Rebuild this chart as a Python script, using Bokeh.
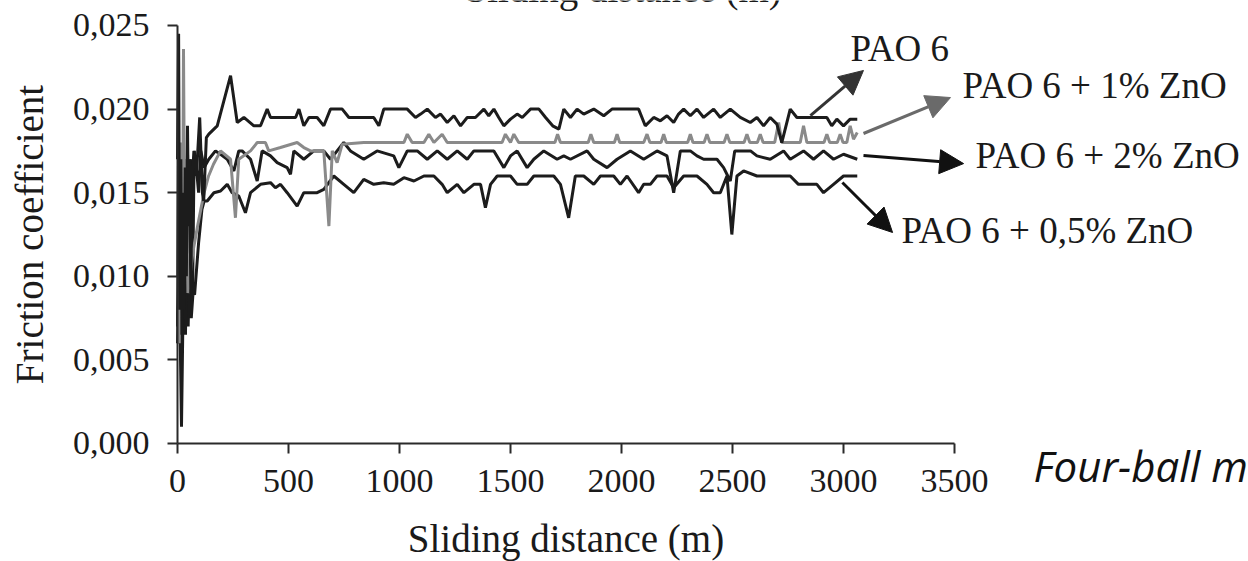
from bokeh.plotting import figure
from bokeh.models import Range1d, FixedTicker, Label, Arrow, NormalHead
from bokeh.embed import file_html
from bokeh.resources import INLINE

# ---------------- data ----------------
x_ticks = [0, 500, 1000, 1500, 2000, 2500, 3000, 3500]
y_ticks = [0.0, 0.005, 0.010, 0.015, 0.020, 0.025]
y_tick_labels = ["0,000", "0,005", "0,010", "0,015", "0,020", "0,025"]

series_names = ["PAO 6", "PAO 6 + 1% ZnO", "PAO 6 + 2% ZnO", "PAO 6 + 0,5% ZnO"]

pao6_x = [0, 5, 10, 15, 20, 25, 30, 35, 40, 45, 50, 55, 60, 65, 75, 85, 100, 112, 118, 130, 141,
          179, 239, 269, 299, 344, 374, 404, 419, 532, 547, 569, 592, 629, 659, 689, 742, 772, 884,
          907, 929, 1035, 1072, 1095, 1125, 1162, 1185, 1215, 1245, 1275, 1305, 1342, 1380, 1402,
          1425, 1447, 1470, 1500, 1530, 1553, 1590, 1628, 1658, 1690, 1718, 1740, 1770, 1800, 1830,
          1875, 1920, 1957, 2077, 2107, 2145, 2175, 2205, 2235, 2257, 2280, 2310, 2340, 2370, 2415,
          2445, 2490, 2535, 2580, 2610, 2640, 2670, 2700, 2722, 2760, 2790, 2925, 2947, 2970, 3000,
          3030, 3062]
pao6_y = [0.0170, 0.0245, 0.0080, 0.0170, 0.0065, 0.0150, 0.0080, 0.0165, 0.0100, 0.0190, 0.0130,
          0.0170, 0.0090, 0.0160, 0.0175, 0.0160, 0.0195, 0.0150, 0.0145, 0.0183, 0.0185,
          0.0190, 0.0220, 0.0192, 0.0195, 0.0190, 0.0190, 0.0200, 0.0195, 0.0195, 0.0200, 0.0190,
          0.0195, 0.0195, 0.0190, 0.0200, 0.0200, 0.0195, 0.0195,
          0.0190, 0.0200, 0.0200, 0.0195, 0.0197, 0.0200, 0.0195, 0.0197, 0.0192, 0.0196, 0.0190,
          0.0195, 0.0195, 0.0200, 0.0196,
          0.0200, 0.0195, 0.0190, 0.0194, 0.0197, 0.0195, 0.0200, 0.0200, 0.0195, 0.0190, 0.0188,
          0.0200, 0.0195, 0.0200, 0.0197,
          0.0200, 0.0196, 0.0200, 0.0200, 0.0190, 0.0195, 0.0193, 0.0196, 0.0192, 0.0197, 0.0200,
          0.0196, 0.0200, 0.0195, 0.0200,
          0.0195, 0.0200, 0.0195, 0.0192, 0.0195, 0.0190, 0.0195, 0.0191, 0.0180, 0.0200, 0.0195,
          0.0195, 0.0190, 0.0194, 0.0190,
          0.0194, 0.0194]

zno1_x = [0, 8, 15, 22, 27, 33, 40, 47, 55, 70, 89, 105, 120, 140, 162, 194, 239, 261, 276, 329,
          359, 396, 411, 464, 539, 569, 599, 659, 682, 697, 719, 742, 839, 1020, 1035, 1057, 1110,
          1132, 1155, 1192, 1215, 1462, 1477, 1500, 1515, 1537, 1700, 1712, 1725, 1850, 1862, 1875,
          1968, 1980, 1992, 2100, 2115, 2128, 2178, 2190, 2202, 2298, 2310, 2322, 2372, 2385, 2398,
          2462, 2475, 2488, 2552, 2565, 2578, 2612, 2625, 2638, 2690, 2708, 2722, 2805, 2820, 2835,
          2912, 2925, 2938, 2972, 2985, 2998, 3015, 3030, 3045, 3062]
zno1_y = [0.0100, 0.0060, 0.0180, 0.0090, 0.0236, 0.0110, 0.0170, 0.0090, 0.0099, 0.0115, 0.0129,
          0.0140, 0.0150, 0.0160, 0.0167, 0.0175, 0.0170, 0.0135, 0.0170, 0.0175,
          0.0180, 0.0180, 0.0175, 0.0177, 0.0180, 0.0177, 0.0175, 0.0175, 0.0130, 0.0175, 0.0168,
          0.0179, 0.0180, 0.0180, 0.0185, 0.0180, 0.0180,
          0.0185, 0.0180, 0.0185, 0.0180, 0.0180, 0.0185, 0.0180, 0.0185, 0.0180, 0.0180, 0.0185,
          0.0180, 0.0180, 0.0185, 0.0180,
          0.0180, 0.0185, 0.0180, 0.0180, 0.0185, 0.0180, 0.0180, 0.0185, 0.0180, 0.0180, 0.0185,
          0.0180, 0.0180, 0.0185, 0.0180,
          0.0180, 0.0185, 0.0180, 0.0180, 0.0185, 0.0180, 0.0180, 0.0185, 0.0180, 0.0180, 0.0192,
          0.0180, 0.0180, 0.0190, 0.0180,
          0.0180, 0.0185, 0.0180, 0.0180, 0.0185, 0.0180, 0.0180, 0.0190, 0.0182, 0.0186]

zno2_x = [0, 5, 10, 17, 23, 30, 37, 45, 52, 60, 68, 75, 85, 95, 105, 120, 141, 171, 194, 224, 254,
          276, 291, 329, 359, 381, 419, 449, 494, 509, 524, 569, 614, 659, 689, 719, 749, 779, 839,
          899, 974, 997, 1035, 1080, 1125, 1170, 1215, 1260, 1305, 1335, 1425, 1470, 1500, 1530,
          1575, 1605, 1650, 1710, 1740, 1770, 1845, 1875, 1935, 1980, 2040, 2100, 2160, 2205, 2235,
          2265, 2310, 2340, 2370, 2430, 2460, 2490, 2510, 2581, 2610, 2670, 2730, 2760, 2820, 2865,
          2910, 2955, 3000, 3062]
zno2_y = [0.0070, 0.0180, 0.0060, 0.0175, 0.0070, 0.0170, 0.0075, 0.0175, 0.0085, 0.0170, 0.0090,
          0.0175, 0.0165, 0.0150, 0.0175, 0.0165, 0.0170, 0.0175, 0.0173, 0.0170, 0.0163,
          0.0175, 0.0175, 0.0170, 0.0157, 0.0175, 0.0172, 0.0168, 0.0165, 0.0161, 0.0175, 0.0170,
          0.0175, 0.0175, 0.0170, 0.0175, 0.0180, 0.0175, 0.0170,
          0.0175, 0.0172, 0.0165, 0.0175, 0.0175, 0.0170, 0.0175, 0.0170, 0.0175, 0.0170, 0.0175,
          0.0175, 0.0165, 0.0172, 0.0175,
          0.0165, 0.0170, 0.0175, 0.0170, 0.0172, 0.0170, 0.0175, 0.0170, 0.0165, 0.0170, 0.0175,
          0.0170, 0.0175, 0.0172, 0.0150,
          0.0175, 0.0175, 0.0172, 0.0170, 0.0170, 0.0165, 0.0157, 0.0175, 0.0175, 0.0172, 0.0170,
          0.0175, 0.0170, 0.0175, 0.0170,
          0.0175, 0.0170, 0.0173, 0.0170]

zno05_x = [0, 5, 12, 18, 24, 30, 36, 42, 48, 55, 62, 70, 77, 95, 110, 120, 134, 164, 194, 224, 246,
           276, 306, 329, 374, 419, 441, 464, 494, 539, 569, 629, 659, 704, 749, 794, 839, 884, 929,
           974, 1020, 1065, 1110, 1155, 1192, 1215, 1260, 1290, 1335, 1365, 1387, 1410, 1440, 1500,
           1530, 1575, 1605, 1695, 1725, 1762, 1792, 1830, 1875, 1905, 1965, 1995, 2025, 2077, 2100,
           2130, 2160, 2205, 2235, 2280, 2340, 2385, 2415, 2445, 2475, 2497, 2520, 2550, 2610, 2670,
           2760, 2797, 2835, 2880, 2910, 2955, 3000, 3062]
zno05_y = [0.0060, 0.0100, 0.0065, 0.0010, 0.0070, 0.0120, 0.0065, 0.0130, 0.0070, 0.0110, 0.0075,
           0.0090, 0.0089, 0.0120, 0.0140, 0.0145, 0.0145, 0.0150, 0.0151, 0.0155, 0.0150,
           0.0148, 0.0138, 0.0150, 0.0155, 0.0156, 0.0153, 0.0155, 0.0150, 0.0142, 0.0150, 0.0150,
           0.0152, 0.0160, 0.0155, 0.0150, 0.0158, 0.0155, 0.0156,
           0.0155, 0.0159, 0.0157, 0.0160, 0.0160, 0.0155, 0.0150, 0.0155, 0.0150, 0.0155, 0.0155,
           0.0141, 0.0155, 0.0160, 0.0160,
           0.0155, 0.0155, 0.0160, 0.0160, 0.0155, 0.0135, 0.0160, 0.0160, 0.0155, 0.0160, 0.0160,
           0.0155, 0.0160, 0.0150, 0.0155,
           0.0155, 0.0160, 0.0160, 0.0153, 0.0160, 0.0160, 0.0155, 0.0150, 0.0150, 0.0160, 0.0125,
           0.0160, 0.0163, 0.0160, 0.0160,
           0.0160, 0.0155, 0.0155, 0.0155, 0.0150, 0.0155, 0.0160, 0.0160]

# ---------------- figure ----------------
SERIF = "Liberation Serif"
BLACK = "#1c1c1c"
GRAY = "#8a8a8a"

# The frame spans the whole canvas; the axes sit at x=0 / y=0 and are bounded to
# their data extent, so that texts outside the axes area are not clipped.
p = figure(width=1248, height=561, min_border=0,
           x_range=Range1d(-797.3, 4824.3), y_range=Range1d(-0.0070574, 0.026495),
           output_backend="svg", toolbar_location=None)
p.outline_line_color = None
p.grid.visible = False
p.background_fill_color = "white"
p.border_fill_color = "white"

p.xaxis.fixed_location = 0
p.yaxis.fixed_location = 0
p.xaxis.bounds = (0, 3500)
p.yaxis.bounds = (0, 0.025)

for ax in (p.xaxis[0], p.yaxis[0]):
    ax.axis_line_width = 2
    ax.axis_line_color = "#2a2a2a"
    ax.major_tick_line_width = 2
    ax.major_tick_line_color = "#2a2a2a"
    ax.major_tick_out = 10
    ax.major_tick_in = 0
    ax.minor_tick_line_color = None
    ax.major_label_text_font = SERIF
    ax.major_label_text_font_size = "34px"
    ax.major_label_text_color = "#1a1a1a"
    ax.axis_label_text_font = SERIF
    ax.axis_label_text_font_size = "39px"
    ax.axis_label_text_font_style = "normal"
    ax.axis_label_text_color = "#1a1a1a"

p.xaxis.ticker = FixedTicker(ticks=x_ticks)
p.yaxis.ticker = FixedTicker(ticks=y_ticks)
p.yaxis.major_label_overrides = {t: s for t, s in zip(y_ticks, y_tick_labels)}
p.xaxis.major_label_standoff = 17
p.yaxis.major_label_standoff = 18
p.xaxis.axis_label = "Sliding distance (m)"
p.yaxis.axis_label = "Friction coefficient"
p.xaxis.axis_label_standoff = 21
p.yaxis.axis_label_standoff = 19

p.line(zno05_x, zno05_y, line_color=BLACK, line_width=3)
p.line(zno2_x, zno2_y, line_color=BLACK, line_width=3)
p.line(zno1_x, zno1_y, line_color=GRAY, line_width=3)
p.line(pao6_x, pao6_y, line_color=BLACK, line_width=3)

# arrows pointing to series names
arrows = [
    (2851, 0.01961, 3090, 0.02231, "#333333"),
    (3090, 0.01854, 3482, 0.02069, "#6a6a6a"),
    (3090, 0.01722, 3541, 0.01674, "#111111"),
    (2995, 0.01561, 3221, 0.01262, "#111111"),
]
for xs, ys, xe, ye, c in arrows:
    p.add_layout(Arrow(end=NormalHead(size=24, fill_color=c, line_color=c),
                       x_start=xs, y_start=ys, x_end=xe, y_end=ye,
                       line_color=c, line_width=3))

label_pos = [(3032, 0.02362), (3536, 0.02141), (3595, 0.01723), (3261, 0.01274)]
for (lx, ly), name in zip(label_pos, series_names):
    p.add_layout(Label(x=lx, y=ly, text=name, text_font=SERIF, text_font_size="37px",
                       text_color="#1a1a1a", text_align="left", text_baseline="alphabetic"))

# partially visible texts at the picture edges
p.add_layout(Label(x=1297, y=0.02722, text="Sliding distance (m)", text_font=SERIF,
                   text_font_size="39px", text_color="#1a1a1a", text_baseline="alphabetic"))
p.add_layout(Label(x=3856, y=-0.00131, text="Four-ball m", text_font="Open Sans",
                   text_font_style="italic", text_font_size="42px", text_color="#111111",
                   text_baseline="alphabetic"))

open("out.html", "w").write(file_html(p, INLINE))
